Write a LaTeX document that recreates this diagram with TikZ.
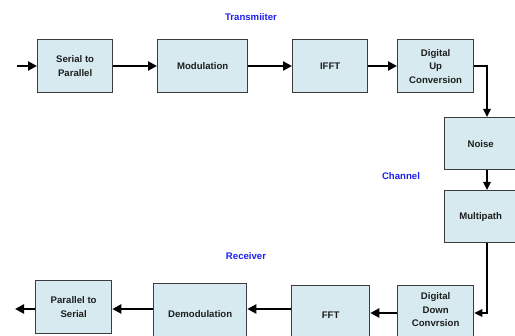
\documentclass[tikz,border=0pt]{standalone}
\usepackage{fontspec}
\setmainfont{Liberation Sans}
\usetikzlibrary{arrows.meta}
\definecolor{boxfill}{RGB}{214,234,240}
\definecolor{boxline}{RGB}{60,60,60}
\definecolor{lblblue}{RGB}{30,30,240}
\definecolor{txt}{RGB}{30,30,30}
\begin{document}
\begin{tikzpicture}[x=1pt,y=-1pt,
  blk/.style={draw=boxline,line width=1.3pt,fill=boxfill,text=txt,
    font=\fontsize{9.6}{13.5}\selectfont\bfseries,align=center,
    inner sep=0pt,anchor=north west},
  thick arrow/.style={line width=2.6pt,-{Triangle[length=9pt,width=9pt]}},
  thin arrow/.style={line width=1.5pt,-{Triangle[length=8pt,width=7.5pt]}},
  lbl/.style={text=lblblue,font=\fontsize{9.6}{11}\selectfont\bfseries}]
\useasboundingbox (0,0) rectangle (515,336);
% transmitter row
\node[blk,minimum width=75pt,minimum height=53pt] (sp) at (37,39) {Serial to\\Parallel};
\node[blk,minimum width=90pt,minimum height=53pt] (mod) at (157,39) {Modulation};
\node[blk,minimum width=75pt,minimum height=53pt] (ifft) at (292,39) {IFFT};
\node[blk,minimum width=76pt,minimum height=53pt] (duc) at (397,39) {Digital\\Up\\Conversion};
% channel
\node[blk,minimum width=72pt,minimum height=52pt] (noise) at (444,117) {Noise};
\node[blk,minimum width=72pt,minimum height=52pt] (mp) at (444,190) {Multipath};
% receiver row
\node[blk,minimum width=76pt,minimum height=53pt] (ps) at (35,280) {Parallel to\\Serial};
\node[blk,minimum width=93pt,minimum height=60pt] (demod) at (153,283) {Demodulation};
\node[blk,minimum width=78pt,minimum height=60pt] (fft) at (291,285) {FFT};
\node[blk,minimum width=76pt,minimum height=60pt,text depth=12pt] (ddc) at (397,285) {Digital\\Down\\Convrsion};
% labels
\node[lbl] (tx) at (251,17) {Transmiiter};
\node[lbl] (ch) at (401,176) {Channel};
\node[lbl] (rx) at (246,256) {Receiver};
% coordinates
\coordinate (in) at (17,66);
\coordinate (out) at (15,309);
\coordinate (c1) at (487,66);
\coordinate (c2) at (487,313);
% arrows
\draw[thick arrow] (in) -- (in -| sp.west);
\draw[thick arrow] (sp.east |- in) -- (mod.west |- in);
\draw[thick arrow] (mod.east |- in) -- (ifft.west |- in);
\draw[thick arrow] (ifft.east |- in) -- (duc.west |- in);
\draw[thin arrow] (duc.east |- c1) -- (c1) -- (c1 |- noise.north);
\draw[thin arrow] (c1 |- noise.south) -- (c1 |- mp.north);
\draw[thin arrow] (c1 |- mp.south) -- (c2) -- (ddc.east |- c2);
\draw[thick arrow] (ddc.west |- c2) -- (fft.east |- c2);
\draw[thick arrow] (fft.west |- 0,309) -- (demod.east |- 0,309);
\draw[thick arrow] (demod.west |- 0,309) -- (ps.east |- 0,309);
\draw[thick arrow] (ps.west |- out) -- (out);
\end{tikzpicture}
\end{document}
